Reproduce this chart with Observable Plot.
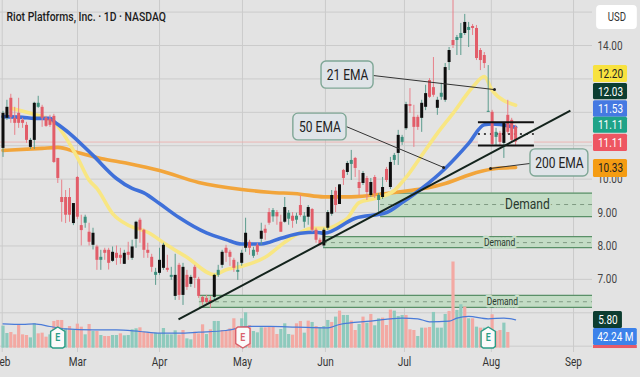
<!DOCTYPE html>
<html><head><meta charset="utf-8">
<script src="https://cdn.jsdelivr.net/npm/d3@7"></script>
<script src="https://cdn.jsdelivr.net/npm/@observablehq/plot@0.6"></script>
<style>html,body{margin:0;padding:0;background:#e3e3e3}#c{width:640px;height:377px;overflow:hidden}svg{display:block}</style>
</head><body><div id="c"></div>
<script>
const opens=[10.92,11.82,12.42,11.82,11.97,11.76,11.61,10.95,11.16,12.15,12.15,11.82,11.79,11.88,10.62,9.45,9.45,9.45,8.67,10.05,8.61,8.68,8.41,8.02,7.97,7.57,7.87,7.87,7.54,7.78,7.72,7.45,7.81,7.63,8.20,8.77,8.47,7.87,7.66,7.12,7.18,7.33,7.33,7.06,6.49,7.42,6.52,7.12,6.85,7.36,7.00,6.46,6.43,6.37,6.46,7.12,7.42,7.93,7.81,7.57,7.21,7.48,7.93,8.11,7.69,8.02,8.20,8.50,9.00,8.87,9.00,8.71,8.71,8.80,8.89,8.77,9.21,8.71,8.86,9.09,8.47,8.17,8.00,8.53,8.95,9.64,9.24,10.26,10.20,10.44,10.62,9.90,9.87,10.02,9.51,10.05,9.36,9.45,10.29,9.75,10.56,10.77,11.10,11.51,12.23,11.85,11.85,11.82,12.15,12.95,12.74,12.12,12.45,12.36,13.49,14.15,14.15,14.21,14.36,14.45,14.57,14.51,13.85,13.70,12.00,12.00,11.25,11.37,11.07,11.91,11.76,11.55];
const highs=[12.03,12.36,12.54,12.15,12.42,11.82,11.70,11.22,12.30,12.48,12.21,11.88,11.91,11.94,10.62,9.97,9.66,9.72,9.27,10.08,8.92,8.92,8.68,8.53,8.02,7.87,7.93,7.93,7.97,8.00,7.93,7.87,8.11,8.17,8.74,8.83,8.50,8.08,7.75,7.33,7.93,8.08,7.72,7.36,7.75,7.48,7.48,7.27,7.12,7.42,7.06,6.49,6.52,6.49,7.15,7.42,7.87,8.02,7.87,7.63,7.51,7.87,8.83,8.17,7.96,8.08,8.68,8.62,9.12,9.12,9.06,8.92,9.45,9.06,9.00,8.98,9.51,9.00,9.21,9.12,8.53,8.23,8.53,9.06,9.66,9.75,9.83,10.29,10.53,10.86,10.65,10.26,10.23,10.08,10.02,10.11,9.57,10.05,10.35,10.65,10.77,11.46,11.31,12.30,12.71,12.21,11.91,12.36,12.81,13.01,13.64,12.45,12.87,13.46,13.94,15.35,14.30,14.66,14.93,14.69,14.63,14.60,13.91,13.79,13.40,12.06,11.52,11.43,11.70,12.36,11.82,11.61];
const lows=[10.65,11.76,11.67,11.31,11.52,11.52,11.07,10.89,10.89,12.12,11.55,11.55,11.55,10.47,9.87,8.71,8.67,8.71,8.61,8.79,8.00,8.53,8.00,7.88,7.27,7.27,7.57,7.28,7.51,7.42,7.45,7.45,7.57,7.57,7.93,8.08,7.63,7.63,7.21,6.82,7.12,7.27,7.21,6.97,6.37,6.37,6.22,6.67,6.76,6.73,6.43,6.22,6.22,6.13,6.37,7.06,7.33,7.51,7.39,7.21,6.97,7.39,7.81,7.72,7.63,7.72,8.02,8.17,8.62,8.71,8.62,8.41,8.68,8.62,8.53,8.65,8.86,8.53,8.62,8.41,8.08,8.00,7.93,8.47,8.89,9.00,9.24,9.81,10.11,9.96,10.05,9.51,9.81,9.36,9.45,9.42,8.97,9.39,9.90,9.69,10.41,10.41,11.01,11.46,11.97,10.95,11.46,11.40,12.05,12.42,12.45,11.91,12.36,12.30,13.25,13.91,13.70,13.70,14.30,13.94,14.30,13.55,13.25,13.31,12.00,10.98,11.01,10.98,10.62,11.34,11.07,11.01];
const closes=[11.97,12.15,11.85,11.67,11.67,11.67,11.16,11.16,12.27,12.27,11.82,11.58,11.61,10.50,10.02,9.30,8.92,8.92,9.27,8.86,8.46,8.86,8.11,8.38,7.57,7.66,7.78,7.48,7.81,7.63,7.63,7.78,7.72,7.97,8.71,8.47,7.87,7.78,7.36,7.21,7.57,8.02,7.27,7.12,7.12,6.52,7.36,6.76,7.06,7.03,6.49,6.31,6.31,6.28,7.12,7.27,7.81,7.78,7.66,7.33,7.27,7.78,8.38,7.93,7.87,7.81,8.44,8.38,8.68,9.06,8.87,8.41,9.15,8.98,8.74,8.89,8.91,8.89,9.15,8.47,8.17,8.02,8.47,9.00,9.51,9.21,9.83,10.02,10.47,10.56,10.32,9.72,10.17,9.60,9.90,9.56,9.51,9.75,9.96,10.50,10.71,11.31,11.25,12.23,12.18,11.55,11.55,12.27,12.56,12.45,12.51,12.36,12.57,13.34,13.85,14.00,14.24,14.36,14.69,14.54,14.51,13.61,13.55,13.46,12.03,11.04,11.40,11.10,11.67,11.40,11.16,11.11];
const volumes=[66,44,47,40,71,40,38,31,73,43,45,33,40,80,83,83,58,65,53,72,63,40,71,50,50,38,35,35,38,38,43,37,38,55,58,61,48,45,43,45,43,59,40,40,52,39,53,28,25,48,43,70,41,55,80,80,53,53,58,88,60,88,106,68,50,46,61,61,63,65,41,56,73,41,39,73,80,45,81,77,65,61,65,83,77,93,111,98,98,81,53,71,93,75,101,67,88,90,68,114,111,95,98,98,55,53,35,60,60,62,107,60,60,101,110,258,113,130,123,88,88,63,60,60,60,100,50,53,75,47,41,42.24];
const volumeSide="ttrrrrrttrrrtrrrtrtrrtrtrtrrttrttttrrrrttttttrrttrrrtrttrrrrrttrtttrrrrtttrrrtrtrtttrtrttrrtrtrttrrrtttrrrttrrttttrrttrtrtrttrrrtr".split("");
const ema21Idx=[2,7,13,19,22,24,28,32,37,42,47,54,57,61,67,72,76,79,83,86,88,91,95,100,103,107,111,115,120,123,125,131];
const ema21=[12.12,11.97,11.70,10.65,9.97,9.72,8.97,8.62,8.41,8.02,7.66,7.14,7.29,7.39,7.66,8.11,8.41,8.53,8.53,8.68,8.83,9.30,9.42,9.66,10.05,10.71,11.37,11.97,12.75,13.07,12.66,12.21];
const ema50Idx=[0,5,8,12,13,17,23,29,33,36,40,45,52,57,61,66,71,76,80,82,90,98,102,107,113,119,123,125,131];
const ema50=[11.87,11.85,11.82,11.82,11.73,11.37,10.71,10.02,9.72,9.59,9.27,8.85,8.39,8.19,8.06,8.06,8.23,8.38,8.41,8.38,8.83,9.00,9.30,9.72,10.32,11.07,11.63,11.65,11.55];
const ema200Idx=[0,10,14,19,25,32,40,50,61,68,76,82,89,98,104,109,113,121,126,131];
const ema200=[10.86,10.92,10.95,10.80,10.62,10.47,10.26,9.90,9.69,9.61,9.55,9.47,9.47,9.57,9.66,9.75,9.87,10.20,10.32,10.35];
const volMaIdx=[0,5,8,12,16,23,29,35,40,45,50,57,63,68,75,83,86,94,102,106,109,114,116,119,124,128,131];
const volMa=[73,71,73,65,58,55,55,50,45,45,48,53,65,65,63,61,71,81,90,88,79,81,90,95,88,90,85];
const monthTicks=[-0.2,19.04,40,61.2,82.4,102.6,124.8,145.8];
const monthNames=["Feb","Mar","Apr","May","Jun","Jul","Aug","Sep"];
const priceTicks=[5,6,7,8,9,10,11,12,13,14,15];
const priceLabels=[7,8,9,10,14];
const demandX1=[96.5,81.9,50.2], demandTop=[9.58,8.28,6.52], demandBottom=[8.88,7.95,6.16], demandMid=[9.24,8.10,6.33];
const demandLabelX=[134,126.9,127.6], demandSize=[15,10.5,10.5], demandEnd=150.65;
const trendX=[44.85,145], trendY=[5.80,12.05];
const lastPrice=11.11, rangeHi=11.70, rangeLo=11.01, rangeMid=11.35, rangeX=[121.5,135.8];
const noteNames=["21 EMA","50 EMA","200 EMA"], noteX1=[81.4,74.2,134.8], noteX2=[94.7,87.8,149.6], noteTop=[13.52,11.96,10.89], noteBottom=[12.71,11.16,10.08];
const noteLineX1=[94.7,87.8,134.8], noteLineY1=[13.10,11.57,10.47], noteLineX2=[125.6,112.6,124.6], noteLineY2=[12.68,10.35,10.32];
const tagText=["12.20","12.03","11.53","11.11","11.11","10.33","5.80","42.24 M"];
const tagX2=[159.6,159.6,159.6,159.6,159.6,159.6,158.3,162.1], tagTop=[13.40,12.86,12.35,11.85,11.34,10.59,6.04,5.53], tagBottom=[12.89,12.38,11.85,11.37,10.83,10.05,5.53,5.02];
const tagFill=["#f8e23f","#0c3d30","#4579e2","#1fa388","#ee5662","#f59c12","#0c3d30","#3c82ea"], tagInk=["#222","#fff","#fff","#fff","#fff","#222","#fff","#fff"];
const earnX=[14,61.3,124], earnKind=["up","down","up"];

const candles=closes.map((c,i)=>({i,o:opens[i],h:highs[i],l:lows[i],c,up:c>=opens[i],small:Math.abs(c-opens[i])<0.2}));
const bars=volumes.map((v,i)=>({i,v,side:volumeSide[i]}));
const series=(xs,ys)=>xs.map((x,k)=>({x,y:ys[k]}));
const volBase=4.94, volY=v=>volBase+v/100;
const rows=(n,f)=>d3.range(n).map(f);
const demand=rows(3,k=>({x1:demandX1[k],x2:demandEnd,t:demandTop[k],b:demandBottom[k],m:demandMid[k],lx:demandLabelX[k],s:demandSize[k]}));
const notes=rows(3,k=>({name:noteNames[k],x1:noteX1[k],x2:noteX2[k],t:noteTop[k],b:noteBottom[k],lx1:noteLineX1[k],ly1:noteLineY1[k],lx2:noteLineX2[k],ly2:noteLineY2[k]}));
const tags=tagText.map((t,k)=>({t,x2:tagX2[k],top:tagTop[k],bot:tagBottom[k],fill:tagFill[k],ink:tagInk[k]}));
const house=up=>({draw(ctx,size){const s=Math.sqrt(size/Math.PI),w=s*0.68,h=s;const d=up?1:-1;ctx.moveTo(0,-h*d);ctx.lineTo(w,-h*0.58*d);ctx.lineTo(w,h*0.85*d);ctx.lineTo(w*0.7,h*d);ctx.lineTo(-w*0.7,h*d);ctx.lineTo(-w,h*0.85*d);ctx.lineTo(-w,-h*0.58*d);ctx.closePath();}});
const earnings=earnX.map((x,k)=>({x,kind:earnKind[k],y:5.26}));
const font="Roboto, sans-serif";
const upBars=bars.filter(d=>d.side==="t"), downBars=bars.filter(d=>d.side==="r");

const chart=Plot.plot({
  width:640,height:352+25,marginLeft:0,marginRight:48,marginTop:0,marginBottom:25,
  style:{background:"#e3e3e3",fontFamily:font,overflow:"hidden"},
  x:{type:"linear",domain:[-0.639,150.65]},
  y:{type:"linear",domain:[4.811,15.347]},
  marks:[
    Plot.gridX(monthTicks,{stroke:"#cbcbcb",strokeOpacity:1,strokeWidth:1}),
    Plot.gridY(priceTicks,{stroke:"#cbcbcb",strokeOpacity:1,strokeWidth:1}),
    Plot.rect(demand,{x1:"x1",x2:"x2",y1:"b",y2:"t",fill:"#c3dcc5"}),
    Plot.ruleY(demand,{x1:"x1",x2:"x2",y:"t",stroke:"#5a9068",strokeWidth:1.3}),
    Plot.ruleY(demand,{x1:"x1",x2:"x2",y:"b",stroke:"#5a9068",strokeWidth:1.3}),
    Plot.ruleY(demand,{x1:"x1",x2:"x2",y:"m",stroke:"#7f9a83",strokeWidth:1,strokeDasharray:"4,4"}),
    Plot.ruleY([lastPrice],{stroke:"#ecaaa8",strokeWidth:0.8}),
    Plot.rect([0],{x1:rangeX[0],x2:rangeX[1],y1:rangeLo,y2:rangeHi,fill:"#ebebeb"}),
    Plot.ruleX(upBars,{x:"i",y1:volBase,y2:d=>volY(d.v),stroke:"#8ecabd",strokeWidth:3.2}),
    Plot.ruleX(downBars,{x:"i",y1:volBase,y2:d=>volY(d.v),stroke:"#f3a9a3",strokeWidth:3.2}),
    Plot.line(series(volMaIdx,volMa),{x:"x",y:d=>volY(d.y),stroke:"#4a7bd8",strokeWidth:1.2,curve:"monotone-x"}),
    Plot.line(series(ema200Idx,ema200),{x:"x",y:"y",stroke:"#f2a53b",strokeWidth:3.6,curve:"monotone-x"}),
    Plot.line(series(ema21Idx,ema21),{x:"x",y:"y",stroke:"#f8e683",strokeWidth:3.6,curve:"monotone-x"}),
    Plot.line(series(ema50Idx,ema50),{x:"x",y:"y",stroke:"#3f70d9",strokeWidth:3.6,curve:"monotone-x"}),
    Plot.ruleY([rangeMid],{x1:rangeX[0],x2:rangeX[1],stroke:"#111",strokeWidth:1.6,strokeDasharray:"2,4"}),
    Plot.ruleX(candles,{x:"i",y1:"l",y2:"h",stroke:d=>d.up?"#5c9c8e":"#e8808a",strokeWidth:1}),
    Plot.ruleX(candles,{x:"i",y1:"o",y2:"c",stroke:d=>d.up?(d.small?"#3c8f7d":"#0e0e0e"):"#e25d69",strokeWidth:3}),
    Plot.ruleY([rangeHi,rangeLo],{x1:rangeX[0],x2:rangeX[1],stroke:"#111",strokeWidth:2}),
    Plot.link([0],{x1:trendX[0],y1:trendY[0],x2:trendX[1],y2:trendY[1],stroke:"#13231c",strokeWidth:2}),
    Plot.link(notes,{x1:"lx1",y1:"ly1",x2:"lx2",y2:"ly2",stroke:"#333",strokeWidth:1}),
    Plot.dot(notes,{x:"lx2",y:"ly2",r:1.5,fill:"#222"}),
    Plot.rect(notes,{x1:"x1",x2:"x2",y1:"b",y2:"t",fill:"#dfe4e8",stroke:"#7fa796",strokeWidth:1.4,rx:5,inset:0}),
    Plot.text(notes,{x:d=>(d.x1+d.x2)/2,y:d=>(d.t+d.b)/2,text:"name",fontSize:15,fill:"#222"}),
    ...demand.map(d=>Plot.text([d],{x:"lx",y:"m",text:()=>"Demand",fontSize:d.s,fill:"#2a3a2f",stroke:"#c3dcc5",strokeWidth:5})),
    Plot.dot(earnings.filter(d=>d.kind==="up"),{x:"x",y:"y",r:10.5,symbol:house(true),fill:"#fafafa",stroke:"#2a9d86",strokeWidth:1.4}),
    Plot.dot(earnings.filter(d=>d.kind==="down"),{x:"x",y:"y",r:10.5,symbol:house(false),fill:"#fafafa",stroke:"#d9606b",strokeWidth:1.4}),
    Plot.text(earnings,{x:"x",y:"y",text:()=>"E",fontSize:11,fontWeight:600,fill:d=>d.kind==="up"?"#2a9d86":"#d9606b"}),
    Plot.text(["Riot Platforms, Inc. · 1D · NASDAQ"],{x:0.9,y:14.87,textAnchor:"start",fontSize:13,fontWeight:500,fill:"#1c1c1c"}),
    Plot.axisX({ticks:monthTicks,tickFormat:(d,i)=>monthNames[i],tickSize:0,tickPadding:5,fontSize:12.5,label:null,color:"#333"}),
    Plot.axisY({ticks:priceLabels,tickFormat:d=>d.toFixed(2),anchor:"right",tickSize:0,tickPadding:5,fontSize:12.5,label:null,color:"#444"}),
    Plot.rect(tags,{x1:150.9,x2:"x2",y1:"bot",y2:"top",fill:"fill",rx:1.5}),
    Plot.rect([0],{x1:150.9,x2:162.1,y1:4.93,y2:5.02,fill:"#e75b68"}),
    Plot.text(tags,{x:d=>(150.9+d.x2)/2,y:d=>(d.top+d.bot)/2,text:"t",fill:"ink",fontSize:12.5}),
    Plot.rect([0],{x1:151.7,x2:162.1,y1:14.48,y2:15.20,fill:"#fff",rx:4}),
    Plot.text(["USD"],{x:156.9,y:14.84,fontSize:12,fill:"#333"})
  ]
});
document.getElementById("c").appendChild(chart);
chart.querySelectorAll("text").forEach(t=>{
  if(t.querySelector("tspan"))return;
  const w=t.getComputedTextLength();
  if(w>0){t.setAttribute("textLength",(w*0.8).toFixed(1));t.setAttribute("lengthAdjust","spacingAndGlyphs");}
});
</script></body></html>
